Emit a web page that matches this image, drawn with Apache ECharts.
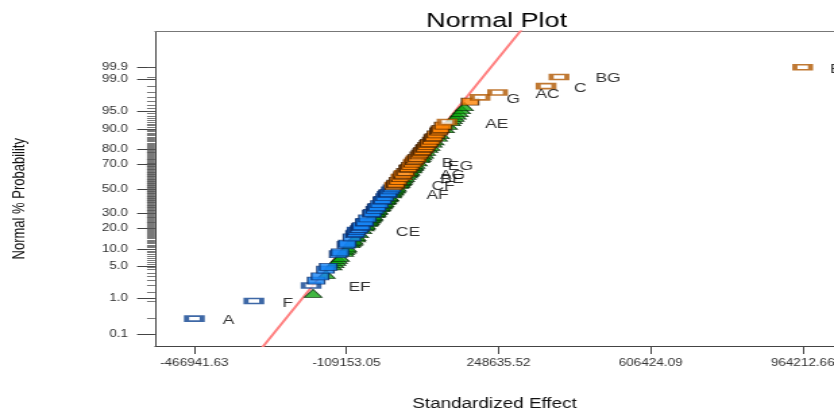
<!DOCTYPE html>
<html>
<head>
<meta charset="utf-8">
<script src="https://cdn.jsdelivr.net/npm/echarts@6/dist/echarts.min.js"></script>
<style>
  html, body { margin: 0; padding: 0; background: #fff; overflow: hidden; }
  #wrap { width: 834px; height: 414px; overflow: hidden; }
  /* the plot is laid out on a narrower canvas and widened horizontally */
  #chart { width: 618px; height: 414px; transform: scaleX(1.3495); transform-origin: 0 0; }
</style>
</head>
<body>
<div id="wrap"><div id="chart"></div></div>
<script>
// ---- data: [standardized effect, normal % probability] ----
const negativeEffects = [
  [-180500,2.57],[-171300,3.14],[-158600,4.29],[-152000,4.86],[-128600,8.29],[-124200,8.86],[-110000,11.71],
  [-107100,12.29],[-96400,15.14],[-90100,16.86],[-87000,17.43],[-84900,18.57],[-79400,19.71],[-76600,20.86],
  [-74000,21.43],[-67000,23.71],[-66300,24.29],[-59900,26.57],[-50700,30.00],[-48300,30.57],[-42600,32.86],
  [-39100,34.57],[-37000,35.14],[-31500,37.43],[-25600,40.29],[-24200,40.86],[-19000,43.14],[-12400,46.00],
  [-11200,46.57],[-6000,48.86],[-2000,50.57]
];
const positiveEffects = [
  [1800,52.29],[6400,54.00],[7000,54.57],[12200,56.86],[17400,59.14],[22800,61.43],[24100,62.00],[29600,64.29],
  [35200,66.57],[36600,67.14],[41000,68.86],[46200,70.57],[49900,72.29],[53100,73.43],[56200,74.57],[61100,76.29],
  [64500,77.43],[68000,78.57],[69800,79.14],[74300,80.29],[75300,80.86],[79100,82.00],[83200,83.14],[85300,83.71],
  [90500,84.86],[94000,86.00],[96600,86.57],[101300,87.71],[107400,88.86],[109400,89.43],[112300,90.00],
  [118500,91.14],[181600,96.86]
];
const errorEstimates = [
  [-195500,1.43],[-164500,3.71],[-148500,5.43],[-143900,6.00],[-139200,6.57],[-135800,7.14],[-131000,7.71],
  [-121000,9.43],[-119200,10.00],[-115300,10.57],[-113600,11.14],[-105800,12.86],[-103300,13.43],[-99800,14.00],
  [-98700,14.57],[-93100,15.71],[-92200,16.29],[-86000,18.00],[-78400,20.29],[-73100,22.00],[-71200,22.57],
  [-69600,23.14],[-64600,24.86],[-62900,25.43],[-60500,26.00],[-58200,27.14],[-56700,27.71],[-54300,28.29],
  [-53600,28.86],[-52100,29.43],[-47800,31.14],[-46300,31.71],[-44800,32.29],[-42000,33.43],[-40600,34.00],
  [-36400,35.71],[-35000,36.29],[-33500,36.86],[-30900,38.00],[-29600,38.57],[-28200,39.14],[-26100,39.71],
  [-22900,41.43],[-20800,42.00],[-20300,42.57],[-17700,43.71],[-15600,44.29],[-15100,44.86],[-9100,47.14],
  [-8500,47.71],[-7300,48.29],[-4000,49.43],[-3300,50.00],[-700,51.14],[1300,51.71],[3100,52.86],
  [8300,55.14],[9600,55.71],[11700,56.29],[13500,57.43],[14800,58.00],[16900,58.57],[18800,59.71],
  [22200,60.86],[25500,62.57],[29000,63.71],[31000,64.86],[32300,65.43],[34600,66.00],[38100,67.71],
  [40300,68.29],[42400,69.43],[43900,70.00],[46800,71.14],[52200,72.86],[57800,75.14],[60300,75.71],
  [62800,76.86],[67000,78.00],[71600,79.71],[77200,81.43],[82000,82.57],[87300,84.29],[91800,85.43],
  [99600,87.14],[104000,88.29],[116000,90.57],[123000,91.71],[130500,92.86],[134500,93.43],[139000,94.00],
  [143500,94.57],[148500,95.14],[154000,95.71],[160500,96.29]
];
// selected (labelled) terms
const termNames   = ['A','F','EF','CE','AF','CF','BE','AG','EG','B','AE','G','AC','C','BG','E'];
const termEffects = [-466941.63,-327000,-192400,-84200,-13800,4500,20100,26800,48400,54600,127500,205100,246300,360400,390900,964212.66];
const termPcts    = [0.29,0.86,2.00,19.14,45.43,53.43,60.29,63.14,71.71,74.00,92.29,97.43,98.00,98.57,99.14,99.52];

// reference line through the error estimates
const lineEffects = [-338600, 332500];
const linePcts    = [0.01, 99.99];

// axis ticks
const xTickValues = [-466941.63, -109153.05, 248635.52, 606424.09, 964212.66];
const yTickPcts   = [0.1, 1, 5, 10, 20, 30, 50, 70, 80, 90, 95, 99, 99.52];
const yTickTexts  = ['0.1','1.0','5.0','10.0','20.0','30.0','50.0','70.0','80.0','90.0','95.0','99.0','99.9'];

// ---- layout / style ----
const STRETCH = 1.3495;
const FONT = '"Liberation Sans", Arial, Helvetica, sans-serif';
// label shift from the point, in page pixels
const labelShift = {
  A:[34,2], F:[34,2], EF:[48.5,2], CE:[51,2], AF:[50.6,1], CF:[48.3,1.5], BE:[50.7,2.3], AG:[48.3,2.2],
  EG:[47,4], B:[31.5,4.2], AE:[49.7,2.3], G:[33.3,2.3], AC:[50,2.2], C:[34.3,1.9], BG:[49,1.8], E:[33,2]
};

// inverse of the standard normal distribution (probability scale)
function probit(p) {
  const a=[-3.969683028665376e+01,2.209460984245205e+02,-2.759285104469687e+02,1.383577518672690e+02,-3.066479806614716e+01,2.506628277459239e+00];
  const b=[-5.447609879822406e+01,1.615858368580409e+02,-1.556989798598866e+02,6.680131188771972e+01,-1.328068155288572e+01];
  const c=[-7.784894002430293e-03,-3.223964580411365e-01,-2.400758277161838e+00,-2.549732539343734e+00,4.374664141464968e+00,2.938163982698783e+00];
  const d=[7.784695709041462e-03,3.224671290700398e-01,2.445134137142996e+00,3.754408661907416e+00];
  const pl = 0.02425, ph = 1 - pl;
  let q, r;
  if (p < pl) {
    q = Math.sqrt(-2 * Math.log(p));
    return (((((c[0]*q+c[1])*q+c[2])*q+c[3])*q+c[4])*q+c[5])/((((d[0]*q+d[1])*q+d[2])*q+d[3])*q+1);
  }
  if (p <= ph) {
    q = p - 0.5; r = q * q;
    return (((((a[0]*r+a[1])*r+a[2])*r+a[3])*r+a[4])*r+a[5])*q/(((((b[0]*r+b[1])*r+b[2])*r+b[3])*r+b[4])*r+1);
  }
  q = Math.sqrt(-2 * Math.log(1 - p));
  return -(((((c[0]*q+c[1])*q+c[2])*q+c[3])*q+c[4])*q+c[5])/((((d[0]*q+d[1])*q+d[2])*q+d[3])*q+1);
}
const toZ = pct => probit(pct / 100);

const zMin = -3.3404, zMax = 3.3511;
const xMin = -559387, xMax = 1037824;

// effect squares, drawn in rank order so higher ranks sit on top
const squares = [];
negativeEffects.forEach(([x, p]) => squares.push({ p, value: [x, toZ(p)],
  itemStyle: { color: '#1684f5', borderColor: '#0a2a66', borderWidth: 1 } }));
positiveEffects.forEach(([x, p]) => squares.push({ p, value: [x, toZ(p)],
  itemStyle: { color: '#ff8505', borderColor: '#3d1d00', borderWidth: 1 } }));
termNames.forEach((n, i) => {
  const neg = termEffects[i] < 0;
  const s = labelShift[n];
  squares.push({ p: termPcts[i], name: n, value: [termEffects[i], toZ(termPcts[i])],
    symbolSize: [11.6, 5],
    itemStyle: { color: '#ffffff', borderColor: neg ? '#0e4290' : '#b05800', borderWidth: 2.5 },
    label: { show: true, position: 'inside', formatter: n, offset: [s[0] / STRETCH, s[1]],
      color: '#000', fontSize: 13, fontFamily: FONT } });
});
squares.sort((u, v) => u.p - v.p);

const yMajorZ = yTickPcts.map(toZ);
const allZ = squares.map(s => s.value[1]).concat(errorEstimates.map(e => toZ(e[1])));

const chart = echarts.init(document.getElementById('chart'));
chart.setOption({
  animation: false,
  backgroundColor: '#fff',
  title: {
    text: 'Normal Plot', left: 363, top: 6, textAlign: 'center',
    textStyle: { fontSize: 20, fontWeight: 'normal', color: '#000', fontFamily: FONT }
  },
  grid: { left: 114.9, top: 31.5, width: 503.1, height: 314.5, show: false, containLabel: false, outerBoundsMode: 'none' },
  xAxis: [{
    type: 'value', min: xMin, max: xMax, position: 'bottom',
    name: 'Standardized Effect', nameLocation: 'middle', nameGap: 51,
    nameTextStyle: { fontSize: 14, color: '#111', fontFamily: FONT },
    axisLine: { show: true, onZero: false, lineStyle: { color: '#444' } },
    axisTick: { show: true, customValues: xTickValues, length: 8, lineStyle: { color: '#444' } },
    axisLabel: { customValues: xTickValues, margin: 12, fontSize: 10, color: '#333', fontFamily: FONT,
      formatter: v => Number(v).toFixed(2) },
    splitLine: { show: false }
  }, {
    // top edge of the frame
    type: 'value', min: xMin, max: xMax, position: 'top',
    axisLine: { show: true, onZero: false, lineStyle: { color: '#777' } },
    axisTick: { show: false }, axisLabel: { show: false }, splitLine: { show: false }
  }],
  yAxis: [{
    type: 'value', min: zMin, max: zMax, position: 'left',
    name: 'Normal % Probability', nameLocation: 'middle', nameGap: 94, nameRotate: 90,
    nameTextStyle: { fontSize: 13, color: '#111', fontFamily: FONT, padding: [0, 20, 0, 0] },
    axisLine: { show: true, onZero: false, lineStyle: { color: '#444' } },
    axisTick: { show: true, customValues: yMajorZ, length: 13.3, lineStyle: { color: '#444' } },
    axisLabel: { customValues: yMajorZ, margin: 20, fontSize: 10, color: '#333', fontFamily: FONT,
      formatter: v => {
        let best = 0;
        yMajorZ.forEach((z, i) => { if (Math.abs(z - v) < Math.abs(yMajorZ[best] - v)) best = i; });
        return yTickTexts[best];
      } },
    splitLine: { show: false }
  }, {
    type: 'value', min: zMin, max: zMax, position: 'left', offset: 0,
    axisLine: { show: false, onZero: false },
    axisTick: { show: true, customValues: allZ, length: 6, lineStyle: { color: '#555', width: 0.8 } },
    axisLabel: { show: false },
    splitLine: { show: false }
  }],
  series: [{
    type: 'line', silent: true, z: 1, symbol: 'none',
    data: lineEffects.map((x, i) => [x, toZ(linePcts[i])]),
    lineStyle: { color: '#ff7f7f', width: 2 }
  }, {
    type: 'scatter', z: 2, symbol: 'triangle', symbolSize: [13, 8], symbolOffset: [2.5, 1.5],
    data: errorEstimates.map(([x, p]) => [x, toZ(p)]),
    itemStyle: { color: '#12a512', borderColor: '#062806', borderWidth: 0.9 }
  }, {
    type: 'scatter', z: 3, symbol: 'rect', symbolSize: [12.6, 7],
    data: squares
  }]
});
</script>
</body>
</html>
